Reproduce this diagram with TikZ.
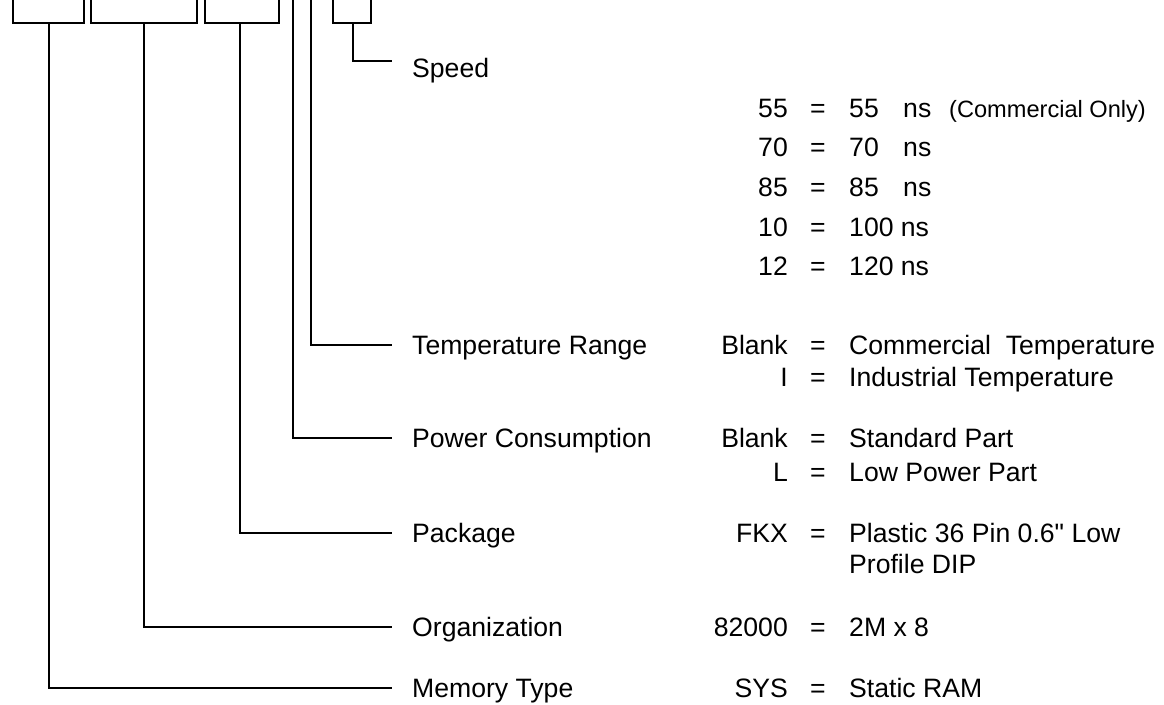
\documentclass[tikz,border=0pt]{standalone}
\usepackage{fontspec}
\setmainfont{Liberation Sans}
\begin{document}
\begin{tikzpicture}[x=1pt, y=-1pt,
  wire/.style={line width=2.7pt, line join=miter},
  txt/.style={inner sep=0pt, font=\fontsize{26.6}{30}\selectfont},
  lbl/.style={txt, anchor=base west},
  code/.style={txt, anchor=base east},
  eq/.style={txt, anchor=base},
  val/.style={txt, anchor=base west},
  note/.style={inner sep=0pt, anchor=base west, font=\fontsize{23.6}{27}\selectfont}
]
\useasboundingbox (0,0) rectangle (1164,704);

% brackets over the part number fields
\foreach \l/\r/\s/\n in {13/84/49/mem, 91/197/144/org, 205/279/240/pkg, 333/371/353/spd} {
  \draw[wire] (\l,-3) |- (\r,23) -- (\r,-3);
  \coordinate (\n-top) at (\s,23);
}
\coordinate (pwr-top) at (293,-3);
\coordinate (tmp-top) at (311,-3);

% field labels
\node[lbl] (speed) at (412,77) {Speed};
\node[lbl] (temp) at (412,354) {Temperature Range};
\node[lbl] (power) at (412,447) {Power Consumption};
\node[lbl] (package) at (412,542) {Package};
\node[lbl] (organization) at (412,636) {Organization};
\node[lbl] (memtype) at (412,697) {Memory Type};

\coordinate (spd-end) at (392,61);
\coordinate (tmp-end) at (392,345);
\coordinate (pwr-end) at (392,438);
\coordinate (pkg-end) at (392,533);
\coordinate (org-end) at (392,627);
\coordinate (mem-end) at (392,688);

\draw[wire] (spd-top) |- (spd-end);
\draw[wire] (tmp-top) |- (tmp-end);
\draw[wire] (pwr-top) |- (pwr-end);
\draw[wire] (pkg-top) |- (pkg-end);
\draw[wire] (org-top) |- (org-end);
\draw[wire] (mem-top) |- (mem-end);

% speed codes
\foreach \c/\v/\y in {55/55/117, 70/70/156, 85/85/196} {
  \node[code] (spd\c) at (788,\y) {\c};
  \node[eq] (spd\c-eq) at (818,\y) {=};
  \node[val] (spd\c-val) at (849,\y) {\v};
  \node[val] (spd\c-ns) at (903,\y) {ns};
}
\node[note] (spdnote) at (949,117) {(Commercial Only)};
\foreach \c/\v/\y in {10/100/236, 12/120/275} {
  \node[code] (spd\c) at (788,\y) {\c};
  \node[eq] (spd\c-eq) at (818,\y) {=};
  \node[val] (spd\c-val) at (849,\y) {\v\ ns};
}

% temperature range
\node[code] (tmpblank) at (788,354) {Blank};
\node[eq] (tmpblankeq) at (818,354) {=};
\node[val] (tmpcom) at (849,354) {Commercial\ \ Temperature};
\node[code] (tmpi) at (788,386) {I};
\node[eq] (tmpieq) at (818,386) {=};
\node[val] (tmpind) at (849,386) {Industrial Temperature};

% power consumption
\node[code] (pwrblank) at (788,447) {Blank};
\node[eq] (pwrblankeq) at (818,447) {=};
\node[val] (pwrstd) at (849,447) {Standard Part};
\node[code] (pwrl) at (788,481) {L};
\node[eq] (pwrleq) at (818,481) {=};
\node[val] (pwrlow) at (849,481) {Low Power Part};

% package
\node[code] (pkgfkx) at (788,542) {FKX};
\node[eq] (pkgfkxeq) at (818,542) {=};
\node[val] (pkgdip) at (849,542) {Plastic 36 Pin 0.6{\addfontfeatures{Ligatures=TeXOff}"} Low};
\node[val] (pkgdip2) at (849,573) {Profile DIP};

% organization
\node[code] (org82) at (788,636) {82000};
\node[eq] (org82eq) at (818,636) {=};
\node[val] (orgsize) at (849,636) {2M x 8};

% memory type
\node[code] (memsys) at (788,697) {SYS};
\node[eq] (memsyseq) at (818,697) {=};
\node[val] (memram) at (849,697) {Static RAM};
\end{tikzpicture}
\end{document}
